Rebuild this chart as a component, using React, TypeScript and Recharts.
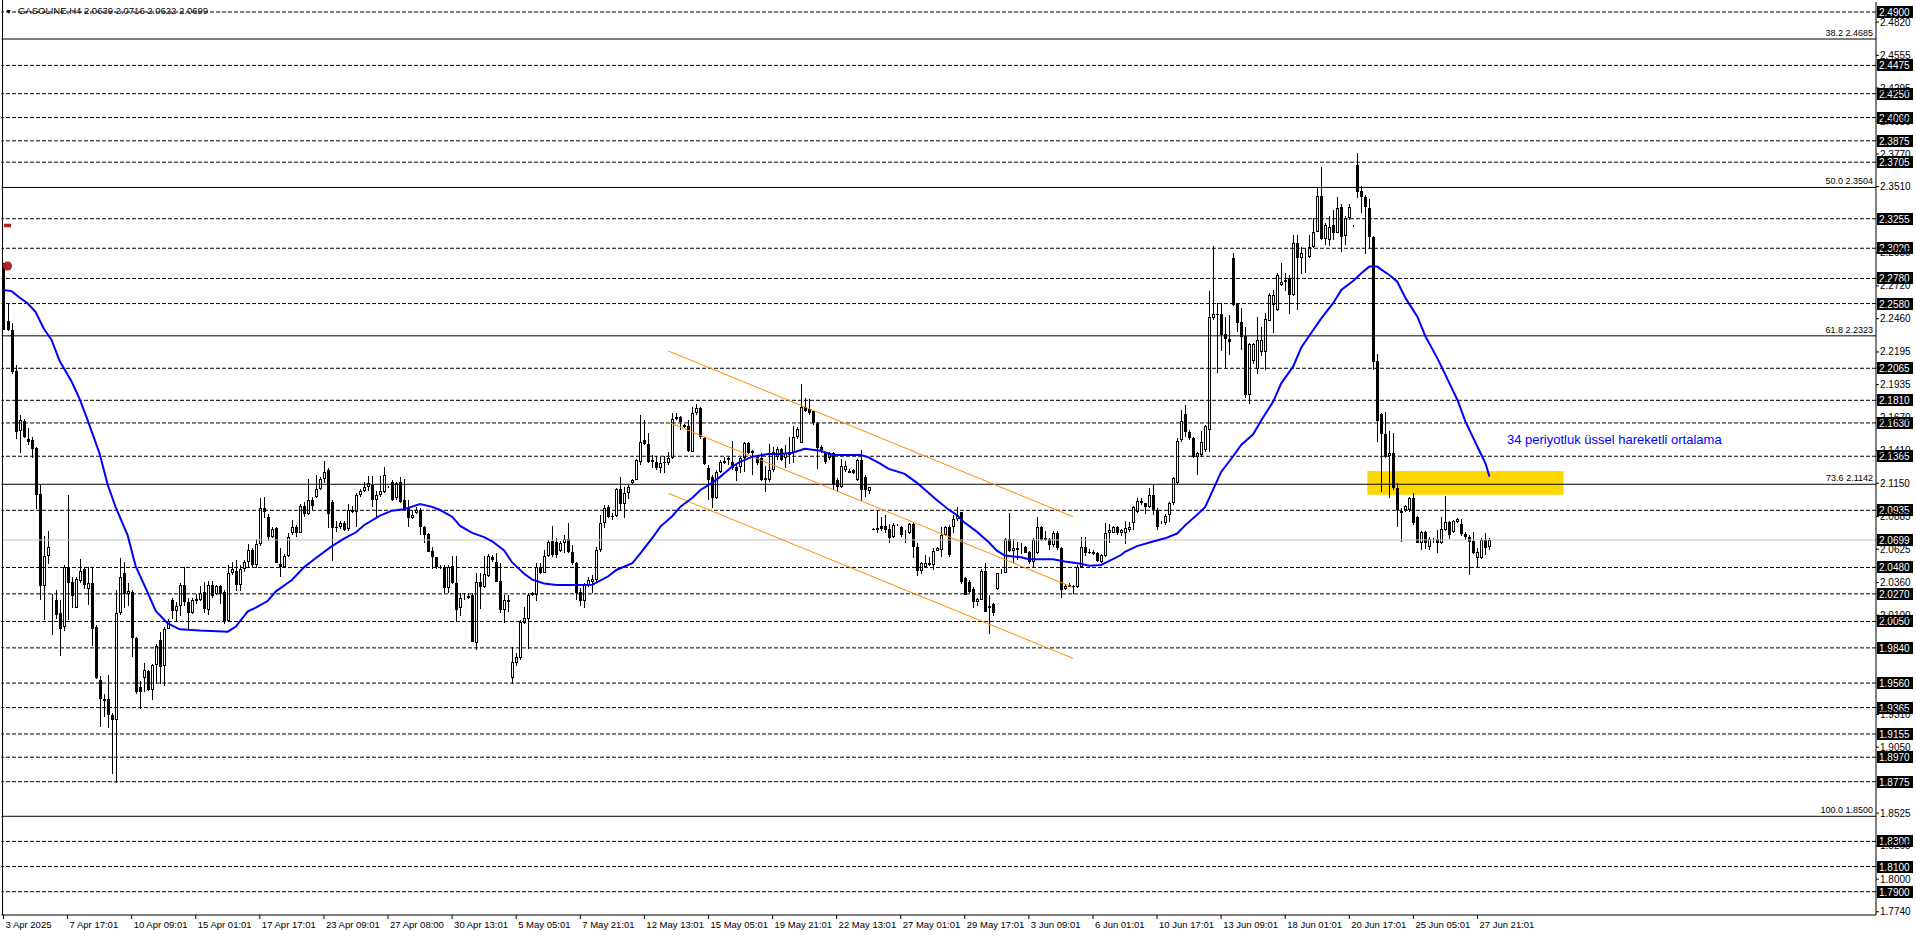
import React from 'react';
import {
  Bar,
  ComposedChart,
  Line,
  ReferenceArea,
  ReferenceDot,
  ReferenceLine,
  XAxis,
  YAxis,
} from 'recharts';

// H4 candles, [open, high, low, close]
const ohlc: [number, number, number, number][] = [
  [2.2886,2.2901,2.2369,2.2369],[2.2445,2.2576,2.2363,2.2369],[2.2369,2.2423,2.2019,2.2034],[2.2043,2.2089,2.1501,2.1556],
  [2.1562,2.1693,2.1388,2.1653],[2.1644,2.1662,2.1510,2.1516],[2.1501,2.1592,2.1455,2.1480],[2.1492,2.1516,2.1349,2.1425],
  [2.1431,2.1440,2.0944,2.1059],[2.1065,2.1135,2.0222,2.0329],[2.0329,2.0730,2.0061,2.0572],[2.0572,2.0770,2.0511,2.0639],
  [2.0237,2.0268,1.9939,2.0240],[2.0222,2.0304,2.0070,2.0100],[2.0115,2.0222,1.9780,1.9993],[2.0008,2.0496,1.9969,2.0481],
  [2.0481,2.1059,2.0061,2.0359],[2.0365,2.0405,2.0161,2.0252],[2.0161,2.0405,2.0161,2.0389],[2.0374,2.0548,2.0359,2.0450],
  [2.0465,2.0487,2.0313,2.0344],[2.0307,2.0481,2.0176,2.0359],[2.0359,2.0487,1.9856,1.9993],[2.0009,2.0024,1.9598,1.9604],
  [1.9582,1.9613,1.9208,1.9430],[1.9430,1.9476,1.9293,1.9420],[1.9430,1.9628,1.9208,1.9308],[1.9308,1.9324,1.8842,1.9263],
  [1.9263,2.0304,1.8770,2.0115],[2.0115,2.0557,2.0100,2.0405],[2.0435,2.0527,2.0161,2.0268],[2.0268,2.0359,2.0176,2.0292],
  [2.0283,2.0298,1.9765,1.9917],[1.9917,1.9926,1.9476,1.9491],[1.9531,1.9573,1.9354,1.9491],[1.9604,1.9720,1.9491,1.9665],
  [1.9659,1.9665,1.9500,1.9506],[1.9506,1.9711,1.9421,1.9705],[1.9705,1.9872,1.9552,1.9857],[1.9902,1.9963,1.9552,1.9689],
  [1.9695,2.0008,1.9537,1.9993],[1.9993,2.0070,1.9987,2.0054],[2.0222,2.0237,2.0070,2.0131],[2.0131,2.0207,2.0054,2.0176],
  [2.0176,2.0359,2.0100,2.0344],[2.0344,2.0481,2.0170,2.0207],[2.0207,2.0237,1.9993,2.0115],[2.0115,2.0237,2.0109,2.0222],
  [2.0213,2.0268,2.0192,2.0228],[2.0222,2.0329,2.0207,2.0274],[2.0283,2.0365,2.0115,2.0146],[2.0140,2.0374,2.0100,2.0344],
  [2.0344,2.0374,2.0237,2.0252],[2.0268,2.0344,2.0262,2.0335],[2.0329,2.0344,2.0192,2.0268],[2.0283,2.0298,2.0030,2.0054],
  [2.0054,2.0496,2.0054,2.0435],[2.0435,2.0527,2.0420,2.0465],[2.0450,2.0542,2.0292,2.0344],[2.0344,2.0496,2.0292,2.0465],
  [2.0465,2.0542,2.0450,2.0527],[2.0527,2.0670,2.0481,2.0618],[2.0618,2.0633,2.0475,2.0496],[2.0496,2.0709,2.0481,2.0663],
  [2.0663,2.1029,2.0648,2.0953],[2.0953,2.1044,2.0877,2.0922],[2.0883,2.0907,2.0694,2.0724],[2.0724,2.0800,2.0709,2.0785],
  [2.0791,2.0800,2.0511,2.0517],[2.0511,2.0633,2.0405,2.0481],[2.0481,2.0587,2.0475,2.0572],[2.0572,2.0755,2.0566,2.0724],
  [2.0755,2.0861,2.0740,2.0800],[2.0800,2.0816,2.0724,2.0755],[2.0755,2.0983,2.0749,2.0968],[2.0968,2.0998,2.0877,2.0907],
  [2.0907,2.1181,2.0892,2.1013],[2.1013,2.1044,2.0937,2.0968],[2.1044,2.1218,2.1035,2.1105],[2.1105,2.1196,2.1090,2.1181],
  [2.1181,2.1327,2.1151,2.1242],[2.1257,2.1272,2.0791,2.0907],[2.0998,2.1013,2.0527,2.0791],[2.0800,2.0846,2.0755,2.0794],
  [2.0800,2.0852,2.0785,2.0831],[2.0831,2.0846,2.0770,2.0779],[2.0785,2.0983,2.0770,2.0937],[2.0922,2.0968,2.0913,2.0937],
  [2.0922,2.1074,2.0800,2.1059],[2.1059,2.1105,2.1044,2.1090],[2.1090,2.1157,2.1074,2.1120],[2.1120,2.1211,2.1090,2.1151],
  [2.1135,2.1211,2.0968,2.1013],[2.1013,2.1090,2.0877,2.1059],[2.1059,2.1211,2.1044,2.1090],[2.1083,2.1277,2.1070,2.1216],
  [2.1118,2.1130,2.1112,2.1120],[2.1163,2.1176,2.1011,2.1017],[2.1030,2.1163,2.1022,2.1150],[2.1163,2.1197,2.0990,2.1004],
  [2.1017,2.1181,2.0937,2.0943],[2.0951,2.1017,2.0799,2.0871],[2.0871,2.0937,2.0863,2.0897],[2.0911,2.0964,2.0905,2.0937],
  [2.0937,2.0950,2.0738,2.0805],[2.0805,2.0810,2.0672,2.0738],[2.0746,2.0752,2.0598,2.0606],[2.0614,2.0646,2.0473,2.0561],
  [2.0561,2.0566,2.0473,2.0481],[2.0481,2.0500,2.0465,2.0492],[2.0481,2.0500,2.0274,2.0314],[2.0314,2.0500,2.0274,2.0486],
  [2.0492,2.0571,2.0349,2.0354],[2.0354,2.0571,2.0057,2.0142],[2.0155,2.0274,2.0089,2.0235],[2.0230,2.0274,2.0216,2.0238],
  [2.0235,2.0274,2.0226,2.0253],[2.0261,2.0274,1.9882,1.9890],[1.9876,2.0439,1.9823,2.0367],[2.0367,2.0439,2.0155,2.0322],
  [2.0322,2.0571,2.0314,2.0428],[2.0412,2.0587,2.0407,2.0571],[2.0566,2.0579,2.0526,2.0539],[2.0526,2.0593,2.0359,2.0367],
  [2.0375,2.0513,2.0115,2.0142],[2.0142,2.0261,2.0036,2.0221],[2.0208,2.0261,2.0128,2.0221],[1.9598,1.9850,1.9558,1.9730],
  [1.9717,1.9797,1.9691,1.9770],[1.9757,2.0062,1.9744,2.0049],[2.0036,2.0168,2.0036,2.0075],[2.0067,2.0274,1.9829,2.0261],
  [2.0279,2.0287,2.0253,2.0261],[2.0261,2.0513,2.0208,2.0486],[2.0486,2.0518,2.0428,2.0433],[2.0439,2.0619,2.0433,2.0571],
  [2.0571,2.0699,2.0566,2.0685],[2.0693,2.0810,2.0566,2.0579],[2.0685,2.0712,2.0553,2.0579],[2.0614,2.0693,2.0606,2.0677],
  [2.0672,2.0738,2.0593,2.0704],[2.0704,2.0831,2.0593,2.0606],[2.0606,2.0659,2.0500,2.0518],[2.0518,2.0526,2.0221,2.0279],
  [2.0287,2.0314,2.0168,2.0216],[2.0216,2.0354,2.0155,2.0340],[2.0340,2.0407,2.0327,2.0380],[2.0367,2.0420,2.0274,2.0385],
  [2.0380,2.0646,2.0367,2.0619],[2.0619,2.0897,2.0606,2.0831],[2.0831,2.0977,2.0791,2.0950],[2.0964,2.0977,2.0871,2.0879],
  [2.0889,2.0911,2.0858,2.0879],[2.0889,2.1110,2.0879,2.1102],[2.1102,2.1197,2.0924,2.0985],[2.0985,2.1123,2.0879,2.1075],
  [2.1075,2.1136,2.1022,2.1118],[2.1155,2.1181,2.1144,2.1176],[2.1176,2.1341,2.1171,2.1335],[2.1320,2.1693,2.1295,2.1481],
  [2.1494,2.1653,2.1454,2.1462],[2.1462,2.1547,2.1309,2.1320],[2.1338,2.1375,2.1269,2.1320],[2.1320,2.1367,2.1256,2.1269],
  [2.1269,2.1362,2.1234,2.1314],[2.1322,2.1367,2.1229,2.1309],[2.1309,2.1401,2.1296,2.1349],[2.1349,2.1707,2.1341,2.1659],
  [2.1680,2.1707,2.1653,2.1659],[2.1680,2.1685,2.1574,2.1640],[2.1600,2.1622,2.1587,2.1614],[2.1606,2.1653,2.1401,2.1409],
  [2.1401,2.1754,2.1393,2.1707],[2.1707,2.1781,2.1693,2.1746],[2.1746,2.1760,2.1508,2.1515],[2.1508,2.1521,2.1295,2.1303],
  [2.1269,2.1295,2.1017,2.1176],[2.1203,2.1216,2.0950,2.1030],[2.1030,2.1256,2.1022,2.1242],[2.1242,2.1335,2.1229,2.1322],
  [2.1314,2.1362,2.1309,2.1330],[2.1335,2.1362,2.1296,2.1348],[2.1322,2.1484,2.1256,2.1269],[2.1282,2.1295,2.1171,2.1250],
  [2.1282,2.1362,2.1234,2.1348],[2.1348,2.1481,2.1242,2.1468],[2.1473,2.1481,2.1388,2.1394],[2.1388,2.1415,2.1216,2.1409],
  [2.1362,2.1375,2.1295,2.1309],[2.1348,2.1388,2.1163,2.1176],[2.1189,2.1288,2.1083,2.1176],[2.1176,2.1462,2.1163,2.1256],
  [2.1256,2.1441,2.1242,2.1402],[2.1362,2.1441,2.1340,2.1420],[2.1420,2.1428,2.1322,2.1335],[2.1348,2.1454,2.1269,2.1393],
  [2.1375,2.1521,2.1309,2.1402],[2.1402,2.1605,2.1309,2.1521],[2.1521,2.1600,2.1508,2.1579],[2.1473,2.1940,2.1468,2.1754],
  [2.1754,2.1826,2.1712,2.1728],[2.1738,2.1818,2.1693,2.1706],[2.1728,2.1733,2.1614,2.1627],[2.1632,2.1640,2.1269,2.1428],
  [2.1436,2.1454,2.1388,2.1415],[2.1388,2.1402,2.1309,2.1322],[2.1348,2.1402,2.1340,2.1393],[2.1393,2.1402,2.1096,2.1136],
  [2.1176,2.1189,2.1075,2.1123],[2.1123,2.1340,2.1110,2.1287],[2.1256,2.1330,2.1242,2.1287],[2.1234,2.1261,2.1229,2.1250],
  [2.1256,2.1261,2.1224,2.1234],[2.1176,2.1340,2.1163,2.1335],[2.1335,2.1415,2.1012,2.1096],[2.1203,2.1216,2.1043,2.1096],
  [2.1091,2.1123,2.1070,2.1118],[2.0786,2.0794,2.0778,2.0781],[2.0778,2.0937,2.0752,2.0797],[2.0810,2.0884,2.0773,2.0784],
  [2.0810,2.0897,2.0757,2.0778],[2.0784,2.0826,2.0677,2.0712],[2.0720,2.0831,2.0712,2.0818],[2.0818,2.0826,2.0810,2.0823],
  [2.0805,2.0810,2.0725,2.0738],[2.0752,2.0778,2.0672,2.0765],[2.0757,2.0837,2.0752,2.0826],[2.0826,2.0844,2.0560,2.0640],
  [2.0640,2.0672,2.0412,2.0455],[2.0455,2.0526,2.0433,2.0513],[2.0486,2.0579,2.0473,2.0513],[2.0500,2.0560,2.0486,2.0518],
  [2.0500,2.0633,2.0460,2.0614],[2.0614,2.0640,2.0606,2.0633],[2.0619,2.0799,2.0560,2.0738],[2.0738,2.0810,2.0730,2.0805],
  [2.0805,2.0818,2.0566,2.0579],[2.0800,2.0897,2.0752,2.0863],[2.0863,2.0958,2.0844,2.0889],[2.0924,2.0924,2.0354,2.0367],
  [2.0393,2.0407,2.0261,2.0261],[2.0367,2.0380,2.0274,2.0287],[2.0306,2.0327,2.0163,2.0208],[2.0208,2.0234,2.0168,2.0226],
  [2.0221,2.0465,2.0221,2.0455],[2.0455,2.0513,2.0128,2.0128],[2.0157,2.0261,1.9950,2.0173],[2.0189,2.0195,2.0089,2.0115],
  [2.0306,2.0439,2.0301,2.0433],[2.0433,2.0465,2.0425,2.0446],[2.0439,2.0712,2.0433,2.0704],[2.0704,2.0916,2.0606,2.0614],
  [2.0614,2.0704,2.0513,2.0633],[2.0619,2.0685,2.0540,2.0633],[2.0632,2.0677,2.0592,2.0646],[2.0646,2.0651,2.0592,2.0598],
  [2.0606,2.0614,2.0513,2.0526],[2.0526,2.0712,2.0473,2.0698],[2.0592,2.0879,2.0587,2.0799],[2.0805,2.0810,2.0693,2.0698],
  [2.0696,2.0773,2.0693,2.0712],[2.0704,2.0712,2.0614,2.0659],[2.0659,2.0773,2.0646,2.0752],[2.0757,2.0773,2.0619,2.0632],
  [2.0632,2.0640,2.0234,2.0301],[2.0306,2.0348,2.0301,2.0332],[2.0327,2.0354,2.0322,2.0340],[2.0335,2.0340,2.0269,2.0332],
  [2.0327,2.0500,2.0314,2.0486],[2.0486,2.0720,2.0473,2.0646],[2.0646,2.0720,2.0566,2.0592],[2.0606,2.0624,2.0587,2.0592],
  [2.0606,2.0619,2.0579,2.0587],[2.0592,2.0606,2.0526,2.0534],[2.0526,2.0587,2.0513,2.0579],[2.0571,2.0836,2.0566,2.0752],
  [2.0752,2.0826,2.0677,2.0778],[2.0757,2.0810,2.0752,2.0799],[2.0799,2.0810,2.0738,2.0752],[2.0752,2.0784,2.0730,2.0778],
  [2.0752,2.0852,2.0672,2.0791],[2.0778,2.0844,2.0765,2.0805],[2.0837,2.0969,2.0778,2.0959],[2.0924,2.1030,2.0911,2.1012],
  [2.0991,2.1030,2.0977,2.1012],[2.0991,2.0996,2.0911,2.0959],[2.0964,2.1110,2.0951,2.1057],[2.1057,2.1136,2.0898,2.0937],
  [2.0937,2.0951,2.0778,2.0799],[2.0831,2.0853,2.0826,2.0845],[2.0831,2.0906,2.0818,2.0890],[2.0898,2.1004,2.0845,2.0991],
  [2.0991,2.1203,2.0977,2.1189],[2.1150,2.1508,2.1136,2.1489],[2.1494,2.1733,2.1481,2.1648],[2.1701,2.1773,2.1521,2.1561],
  [2.1561,2.1574,2.1494,2.1508],[2.1508,2.1516,2.1348,2.1356],[2.1356,2.1401,2.1216,2.1388],[2.1375,2.1569,2.1362,2.1481],
  [2.1415,2.1614,2.1401,2.1606],[2.1574,2.2683,2.1401,2.2470],[2.2462,2.3038,2.2449,2.2497],[2.2497,2.2582,2.2025,2.2490],
  [2.2497,2.2582,2.2197,2.2330],[2.2338,2.2476,2.2065,2.2296],[2.2301,2.2489,2.2171,2.2277],[2.2940,2.2980,2.2555,2.2569],
  [2.2577,2.2587,2.2356,2.2423],[2.2436,2.2542,2.2211,2.2317],[2.2322,2.2391,2.1826,2.1852],[2.1852,2.2269,2.1786,2.2258],
  [2.2126,2.2269,2.2105,2.2258],[2.2057,2.2476,2.2025,2.2290],[2.2197,2.2391,2.2158,2.2290],[2.2197,2.2508,2.2051,2.2455],
  [2.2444,2.2662,2.2436,2.2648],[2.2569,2.2688,2.2343,2.2648],[2.2529,2.2821,2.2516,2.2807],[2.2728,2.2900,2.2720,2.2754],
  [2.2768,2.2821,2.2675,2.2754],[2.2781,2.2807,2.2497,2.2648],[2.2648,2.3126,2.2640,2.3059],[2.3059,2.3126,2.2529,2.2940],
  [2.2940,2.3033,2.2821,2.2980],[2.2948,2.3019,2.2821,2.2953],[2.2953,2.3126,2.2940,2.3033],[2.3027,2.3258,2.3019,2.3152],
  [2.3152,2.3505,2.3144,2.3436],[2.3436,2.3664,2.3080,2.3091],[2.3091,2.3218,2.3046,2.3205],[2.3086,2.3277,2.3038,2.3193],
  [2.3205,2.3325,2.3086,2.3144],[2.3144,2.3425,2.3139,2.3338],[2.3346,2.3372,2.2993,2.3107],[2.3118,2.3277,2.3046,2.3258],
  [2.3258,2.3372,2.3245,2.3351],[2.3187,2.3205,2.3187,2.3190],[2.3683,2.3781,2.3425,2.3470],[2.3478,2.3516,2.3298,2.3425],
  [2.3425,2.3444,2.2974,2.3346],[2.3338,2.3409,2.3019,2.3107],[2.3107,2.3118,2.2051,2.2118],[2.2126,2.2179,2.1481,2.1648],
  [2.1701,2.1712,2.1083,2.1542],[2.1542,2.1720,2.1356,2.1362],[2.1367,2.1569,2.1038,2.1393],[2.1393,2.1547,2.1096,2.1110],
  [2.1110,2.1150,2.0799,2.0937],[2.0932,2.0951,2.0677,2.0911],[2.0937,2.0977,2.0924,2.0969],[2.0937,2.1043,2.0924,2.1030],
  [2.1030,2.1075,2.0818,2.0831],[2.0884,2.0890,2.0672,2.0677],[2.0677,2.0773,2.0619,2.0765],[2.0765,2.0773,2.0632,2.0672],
  [2.0646,2.0725,2.0624,2.0704],[2.0699,2.0712,2.0672,2.0704],[2.0704,2.0778,2.0593,2.0672],[2.0672,2.0884,2.0667,2.0784],
  [2.0778,2.1049,2.0773,2.0845],[2.0845,2.0853,2.0712,2.0738],[2.0765,2.0858,2.0757,2.0853],[2.0845,2.0871,2.0831,2.0863],
  [2.0826,2.0863,2.0725,2.0746],[2.0746,2.0765,2.0699,2.0720],[2.0720,2.0738,2.0420,2.0685],[2.0693,2.0765,2.0587,2.0598],
  [2.0553,2.0632,2.0481,2.0606],[2.0553,2.0712,2.0545,2.0699],[2.0699,2.0752,2.0579,2.0632],[2.0639,2.0716,2.0622,2.0699],
];

// 34 EMA, sampled along the drawn curve (bar index -> value)
const emaBars = [
  0, 2, 4, 6, 8, 10, 12, 14, 17, 19, 21, 24, 26, 28, 31, 33, 36, 38, 41, 44, 49, 56, 58, 61, 63, 66, 68, 72, 75, 78, 82, 85, 88, 90, 94,
  97, 100, 102, 104, 107, 109, 112, 114, 117, 120, 122, 125, 127, 130, 132, 135, 138, 143, 147, 148, 151, 153, 157, 159, 162, 164, 167, 169, 172, 174, 177, 179, 182, 184, 187,
  191, 194, 197, 200, 204, 207, 214, 216, 219, 221, 225, 228, 230, 233, 236, 238, 240, 243, 246, 248, 250, 254, 256, 262, 265, 269, 271, 274, 276, 279,
  280, 283, 287, 290, 293, 295, 298, 300, 302, 304, 307, 309, 312, 314, 317, 319, 322, 324, 327, 329, 332, 334, 337, 339, 341, 343, 344, 346, 348, 350, 353, 355, 358, 360, 363, 365, 368, 370, 371,
];
const emaValues = [
  2.2688, 2.2679, 2.2628, 2.2582, 2.2515, 2.2384, 2.229, 2.2125, 2.196, 2.1821, 2.1653, 2.1385, 2.114, 2.096, 2.0735, 2.049, 2.028, 2.0135, 2.0035, 1.9988, 1.9978, 1.9969, 2.001, 2.0131, 2.016, 2.0215, 2.029, 2.038, 2.0481, 2.0555, 2.065, 2.0709, 2.076, 2.0816, 2.0892,
  2.0932, 2.0943, 2.0964, 2.0985, 2.0962, 2.0937, 2.0884, 2.081, 2.0755, 2.0722, 2.0688, 2.0615, 2.052, 2.043, 2.0383, 2.0352, 2.0341, 2.0341, 2.0343, 2.0359, 2.041, 2.046, 2.0515, 2.0593, 2.0715, 2.0805, 2.089, 2.0964, 2.1035, 2.1097, 2.1155, 2.1203, 2.1285, 2.1322, 2.1362,
  2.1383, 2.1383, 2.1393, 2.1425, 2.1409, 2.1375, 2.1375, 2.1356, 2.1305, 2.1264, 2.1225, 2.1155, 2.11, 2.1017, 2.094, 2.0898, 2.0835, 2.0765, 2.068, 2.0614, 2.0575, 2.0561, 2.0545, 2.0545, 2.0528, 2.051, 2.0493, 2.05, 2.053, 2.0579,
  2.0605, 2.065, 2.0686, 2.0712, 2.075, 2.0815, 2.09, 2.096, 2.11, 2.124, 2.1365, 2.1455, 2.154, 2.165, 2.18, 2.1945, 2.208, 2.223, 2.237, 2.2462, 2.2585, 2.2688, 2.2762, 2.2821, 2.2874, 2.2874, 2.285, 2.2807, 2.2754, 2.2625, 2.2476, 2.232, 2.2144, 2.2012, 2.1813, 2.164, 2.1441, 2.1309, 2.1203,
];

const dateTicks = [0, 16, 32, 48, 64, 80, 96, 112, 128, 144, 160, 176, 192, 208, 224, 240, 256, 272, 288, 304, 320, 336, 352, 368];
const dateLabels = [
  '3 Apr 2025', '7 Apr 17:01', '10 Apr 09:01', '15 Apr 01:01', '17 Apr 17:01', '23 Apr 09:01', '27 Apr 08:00', '30 Apr 13:01',
  '5 May 05:01', '7 May 21:01', '12 May 13:01', '15 May 05:01', '19 May 21:01', '22 May 13:01', '27 May 01:01', '29 May 17:01',
  '3 Jun 09:01', '6 Jun 01:01', '10 Jun 17:01', '13 Jun 09:01', '18 Jun 01:01', '20 Jun 17:01', '25 Jun 05:01', '27 Jun 21:01',
];

const priceTicks = [
  2.482, 2.4555, 2.4295, 2.403, 2.377, 2.351, 2.2985, 2.272, 2.246, 2.2195, 2.1935, 2.167, 2.141, 2.115, 2.0885, 2.0625,
  2.036, 2.01, 1.931, 1.905, 1.8525, 1.8265, 1.8, 1.774,
];

// dashed horizontal levels (labelled in black boxes on the price axis)
const levels = [
  2.49, 2.4475, 2.425, 2.406, 2.3875, 2.3705, 2.3255, 2.302, 2.278, 2.258, 2.2065, 2.181, 2.163, 2.1365, 2.0935, 2.048,
  2.027, 2.005, 1.984, 1.956, 1.9365, 1.9155, 1.897, 1.8775, 1.83, 1.81, 1.79,
];

const fibPercents = ['38.2', '50.0', '61.8', '73.6', '100.0'];
const fibPrices = [2.4685, 2.3504, 2.2323, 2.1142, 1.85];

const lastPrice = 2.0699;

// descending channel (bar index, price)
const channelBars = [166, 267];
const channelTop = [2.2202, 2.0884];
const channelMid = [2.1635, 2.0322];
const channelLow = [2.107, 1.9757];

const zoneBars = [341, 389];
const zonePrices = [2.1059, 2.1248];

const SLOTS = 468;
const FONT = "'Liberation Sans', Arial, sans-serif";

const rows = Array.from({ length: SLOTS }, (_, i) => {
  const c = ohlc[i];
  return c
    ? { i, o: c[0], h: c[1], l: c[2], c: c[3], range: [c[2], c[1]], ema: null as number | null }
    : { i, range: null, ema: null as number | null };
});
emaBars.forEach((b, k) => {
  rows[b].ema = emaValues[k];
});

function Candle(props: any) {
  const { x, y, width, height, payload } = props;
  if (!payload || payload.o == null) return null;
  const { o, h, l, c } = payload;
  const k = h > l ? height / (h - l) : 0;
  const cx = Math.round(x + width / 2 - 0.5);
  const top = Math.round(y + (h - Math.max(o, c)) * k);
  const bot = Math.round(y + (h - Math.min(o, c)) * k);
  const bh = Math.max(1, bot - top);
  return (
    <g>
      <rect x={cx} y={Math.round(y)} width={1} height={Math.max(1, Math.round(height))} fill="#000" />
      {c < o ? (
        <rect x={cx - 1} y={top} width={3} height={bh} fill="#000" />
      ) : (
        <rect x={cx - 0.5} y={top + 0.5} width={2} height={Math.max(0, bh - 1)} fill="#fff" stroke="#000" strokeWidth={1} />
      )}
    </g>
  );
}

function BoxLabel({ viewBox, text }: any) {
  if (!viewBox) return null;
  const x = viewBox.x + viewBox.width;
  const y = Math.round(viewBox.y);
  return (
    <g>
      <rect x={x + 1} y={y - 6} width={36} height={12} fill="#000" />
      <text x={x + 3} y={y + 4} fill="#fff" fontSize={10} fontFamily={FONT}>
        {text}
      </text>
    </g>
  );
}

function FibLabel({ viewBox, text }: any) {
  if (!viewBox) return null;
  const x = viewBox.x + viewBox.width;
  return (
    <text x={x - 3} y={viewBox.y - 3} textAnchor="end" fill="#000" fontSize={9} fontFamily={FONT}>
      {text}
    </text>
  );
}

function PriceTick({ x, y, payload }: any) {
  return (
    <g>
      <line x1={x} x2={x + 3} y1={y} y2={y} stroke="#000" />
      <text x={x + 4} y={y + 3.5} fill="#000" fontSize={10} fontFamily={FONT}>
        {Number(payload.value).toFixed(4)}
      </text>
    </g>
  );
}

function DateTick({ x, y, payload }: any) {
  const idx = dateTicks.indexOf(payload.value);
  return (
    <g>
      <line x1={x} x2={x} y1={y} y2={y + 4} stroke="#000" />
      <text x={x + 2} y={y + 13} fill="#000" fontSize={9.5} fontFamily={FONT}>
        {dateLabels[idx]}
      </text>
    </g>
  );
}

export default function App() {
  return (
    <div style={{ position: 'relative', width: 1916, height: 936, background: '#fff' }}>
      <style>{'body{margin:0}'}</style>
      <ComposedChart
        width={1916}
        height={936}
        data={rows}
        margin={{ top: 2, right: 0, bottom: 0, left: 1.5 }}
      >
        <XAxis
          dataKey="i"
          type="category"
          ticks={dateTicks}
          interval={0}
          height={21}
          tickSize={0}
          tickMargin={0}
          tickLine={false}
          axisLine={{ stroke: '#000' }}
          tick={<DateTick />}
        />
        <YAxis
          orientation="right"
          type="number"
          domain={[1.77145, 2.49796]}
          allowDataOverflow
          ticks={priceTicks}
          interval={0}
          width={40}
          tickSize={0}
          tickMargin={0}
          tickLine={false}
          axisLine={{ stroke: '#000' }}
          tick={<PriceTick />}
        />
        <ReferenceArea
          x1={zoneBars[0]}
          x2={zoneBars[1]}
          y1={zonePrices[0]}
          y2={zonePrices[1]}
          fill="#FFD700"
          fillOpacity={1}
          stroke="none"
        />
        {levels.map((v) => (
          <ReferenceLine
            key={v}
            y={v}
            stroke="#000"
            strokeDasharray="4 2"
            label={<BoxLabel text={v.toFixed(4)} />}
          />
        ))}
        {fibPrices.map((v, k) => (
          <ReferenceLine
            key={'f' + v}
            y={v}
            stroke="#000"
            label={<FibLabel text={`${fibPercents[k]} ${v.toFixed(4)}`} />}
          />
        ))}
        <ReferenceLine y={lastPrice} stroke="#C0C0C0" label={<BoxLabel text={lastPrice.toFixed(4)} />} />
        {[channelTop, channelMid, channelLow].map((ch, k) => (
          <ReferenceLine
            key={'c' + k}
            segment={[
              { x: channelBars[0], y: ch[0] },
              { x: channelBars[1], y: ch[1] },
            ]}
            stroke="#FF8C00"
            strokeWidth={1}
          />
        ))}
        <Bar dataKey="range" barSize={3} shape={<Candle />} isAnimationActive={false} />
        <Line
          dataKey="ema"
          type="linear"
          stroke="#0000FF"
          strokeWidth={2}
          dot={false}
          activeDot={false}
          connectNulls
          isAnimationActive={false}
        />
        <ReferenceDot x={1} y={2.2879} r={4.5} fill="#B22222" stroke="none" />
        <ReferenceDot
          x={1}
          y={2.3199}
          r={2}
          fill="#B22222"
          stroke="none"
          shape={(p: any) => <rect x={p.cx - 3.5} y={p.cy - 2} width={7} height={3.5} fill="#B22222" />}
        />
      </ComposedChart>
      <div style={{ position: 'absolute', left: 2, top: 0, width: 1, height: 915, background: '#000' }} />
      <div
        style={{
          position: 'absolute',
          left: 5,
          top: 5,
          fontFamily: FONT,
          fontSize: 9.5,
          color: '#000',
          lineHeight: '11px',
          whiteSpace: 'nowrap',
        }}
      >
        <span style={{ fontSize: 7 }}>▼</span>
        <span style={{ marginLeft: 6 }}>GASOLINE,H4 2.0639 2.0716 2.0622 2.0699</span>
      </div>
      <div
        style={{
          position: 'absolute',
          left: 1507,
          top: 432,
          fontFamily: FONT,
          fontSize: 13,
          color: '#0000FF',
          whiteSpace: 'nowrap',
        }}
      >
        34 periyotluk üssel hareketli ortalama
      </div>
    </div>
  );
}
